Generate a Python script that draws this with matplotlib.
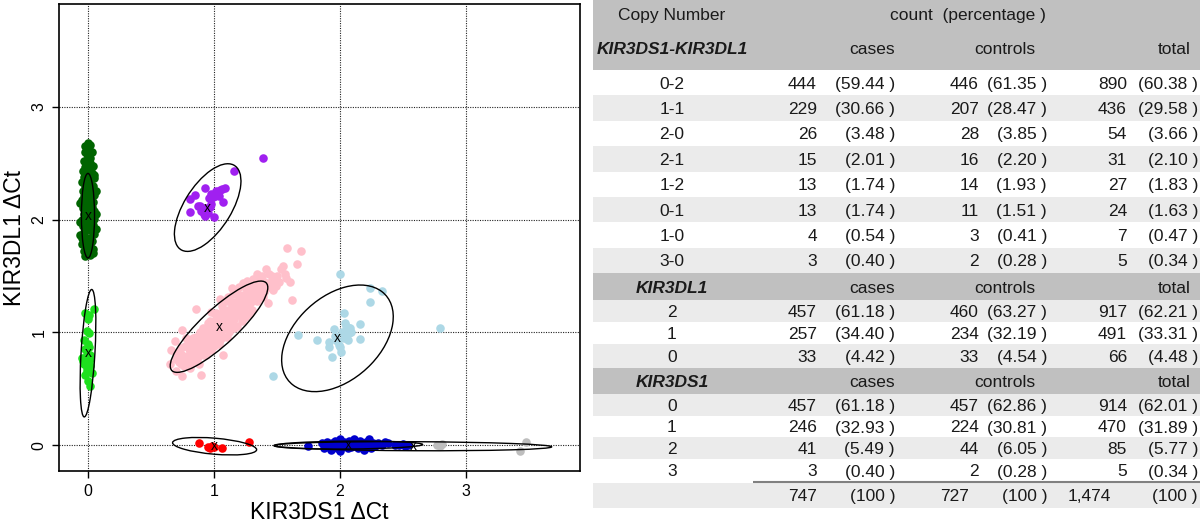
import matplotlib
matplotlib.use("Agg")
import matplotlib.pyplot as plt
from matplotlib.patches import Ellipse, Rectangle

plt.rcParams['font.family'] = ['Liberation Sans', 'DejaVu Sans']

# ---------------- scatter data (KIR3DS1 dCt, KIR3DL1 dCt) ----------------
dkgreen_x = [0.00, 0.02, -0.02, 0.01, 0.03, -0.01, 0.00, -0.03, 0.02, 0.04, -0.02, 0.01, -0.04, 0.03, 0.00,
             -0.03, 0.05, 0.02, -0.05, 0.00, 0.04, -0.02, 0.03, -0.04, 0.01, 0.05, -0.03, 0.02, -0.05, 0.04,
             0.00, -0.02, 0.03, -0.04, 0.05, 0.01, -0.03, 0.03, -0.01, 0.05, -0.05, 0.02, -0.02, 0.04, -0.04,
             0.00, 0.03, -0.03, 0.05, -0.06, 0.01, -0.02, 0.03, -0.04, 0.02, -0.01, 0.04, -0.03, 0.00, 0.02,
             -0.02, 0.01, -0.05, 0.06, -0.06, 0.06, 0.00, 0.00, 0.00, 0.00, 0.01, -0.01, 0.02, -0.02,
             0.06, -0.06, 0.05, -0.05, 0.04]
dkgreen_y = [2.68, 2.66, 2.65, 2.62, 2.60, 2.58, 2.55, 2.52, 2.50, 2.48, 2.47, 2.45, 2.43, 2.41, 2.40,
             2.38, 2.37, 2.35, 2.33, 2.32, 2.30, 2.29, 2.27, 2.25, 2.24, 2.22, 2.21, 2.19, 2.17, 2.16,
             2.14, 2.13, 2.11, 2.10, 2.08, 2.07, 2.05, 2.04, 2.02, 2.01, 2.00, 1.98, 1.97, 1.95, 1.94,
             1.92, 1.90, 1.89, 1.87, 1.86, 1.84, 1.82, 1.81, 1.79, 1.77, 1.75, 1.74, 1.72, 1.70, 1.69,
             1.68, 1.72, 1.84, 2.05, 2.15, 2.25, 2.20, 2.10, 1.95, 1.80, 2.34, 2.28, 2.55, 2.60,
             1.92, 1.98, 2.40, 1.78, 1.70]

green_x = [0.05, -0.02, 0.01, -0.01, 0.01, 0.00, -0.02, -0.05, 0.02, -0.03, 0.02, -0.01, 0.03, 0.00,
           0.02, -0.01, 0.01, -0.03, -0.01, 0.015, -0.02, 0.00, 0.01, -0.04]
green_y = [1.21, 1.17, 1.15, 1.01, 0.99, 0.90, 0.85, 0.77, 0.76, 0.72, 0.70, 0.66, 0.64, 0.57,
           0.52, 0.81, 0.87, 0.93, 0.68, 0.80, 0.62, 1.12, 0.73, 0.75]

purple_x = [1.39, 1.16, 0.93, 1.09, 1.05, 1.02, 0.98, 0.99, 1.01, 0.85, 0.81, 1.07, 0.89, 0.98,
            0.94, 0.81, 0.92, 0.93, 1.00, 0.87, 1.03, 0.96, 1.04, 0.90, 0.95, 1.06, 0.97]
purple_y = [2.55, 2.43, 2.28, 2.28, 2.26, 2.25, 2.23, 2.20, 2.21, 2.22, 2.18, 2.16, 2.12, 2.14,
            2.10, 2.07, 2.05, 2.03, 2.02, 2.12, 2.24, 2.19, 2.21, 2.08, 2.06, 2.27, 2.11]

pink_x = [0.72, 0.75, 0.78, 0.80, 0.82, 0.84, 0.85, 0.87, 0.88, 0.89, 0.90, 0.92, 0.93, 0.94, 0.95,
          0.96, 0.97, 0.98, 0.99, 1.00, 1.01, 1.02, 1.03, 1.04, 1.05, 1.06, 1.07, 1.08, 1.09, 1.10,
          1.11, 1.12, 1.13, 1.14, 1.15, 1.16, 1.17, 1.18, 1.19, 1.20, 1.21, 1.22, 1.23, 1.24, 1.26,
          1.27, 1.28, 1.30, 1.31, 1.33, 1.34, 1.36, 1.37, 1.39, 1.40, 1.42, 0.86, 0.91, 0.79, 0.83,
          0.76, 0.70, 0.74, 0.97, 1.02, 1.06, 1.10, 1.00, 1.05, 1.12, 1.18, 1.25, 1.30, 0.94, 0.88,
          0.81, 1.15, 1.20, 1.26, 0.95, 1.00, 1.08, 1.14, 0.90, 0.85,
          0.70, 0.74, 0.77, 0.80, 0.83, 0.86, 0.89, 0.92, 0.95, 0.98, 1.01, 1.04, 1.07, 1.10, 1.13,
          1.16, 1.19, 1.22, 1.25, 1.28, 1.31, 1.34, 1.37, 1.40, 1.43, 1.45, 0.76, 0.81, 0.87, 0.93,
          0.99, 1.04, 1.09, 1.15, 1.21, 1.27, 1.33, 1.29, 1.24, 1.18, 1.13, 1.07, 1.02, 0.97, 0.92,
          0.84, 0.79, 0.73, 1.36, 1.50, 1.53, 1.44, 1.34, 1.60, 1.47, 1.39, 1.11, 0.98,
          1.58, 1.69, 1.66, 1.55, 1.41, 1.56, 1.57, 1.47, 1.49, 1.31, 1.23, 1.62, 1.43, 1.14, 1.05,
          0.86, 0.75, 0.69, 0.65, 0.75, 0.90, 1.07, 0.73, 0.66, 1.46, 1.52, 1.38, 0.78, 0.70]
pink_y = [0.74, 0.80, 0.76, 0.85, 0.80, 0.90, 0.84, 0.78, 0.94, 0.88, 0.83, 0.98, 0.92, 0.86, 1.02,
          0.96, 0.90, 1.06, 1.00, 0.94, 1.10, 1.04, 0.98, 1.14, 1.08, 1.02, 0.96, 1.16, 1.11, 1.05,
          1.20, 1.14, 1.08, 1.24, 1.18, 1.12, 1.27, 1.21, 1.15, 1.30, 1.24, 1.18, 1.33, 1.27, 1.36,
          1.30, 1.24, 1.39, 1.33, 1.42, 1.36, 1.44, 1.39, 1.46, 1.41, 1.44, 0.96, 1.04, 0.90, 0.74,
          0.70, 0.76, 0.86, 1.10, 1.17, 1.23, 1.28, 0.88, 0.93, 1.00, 1.06, 1.14, 1.20, 0.80, 0.72,
          0.68, 1.34, 1.40, 1.46, 0.95, 1.05, 1.06, 1.15, 0.90, 0.80,
          0.82, 0.72, 0.88, 0.72, 0.95, 0.76, 1.00, 0.80, 1.08, 0.84, 1.16, 0.90, 1.20, 0.96, 1.28,
          1.04, 1.34, 1.10, 1.40, 1.16, 1.44, 1.28, 1.33, 1.36, 1.40, 1.45, 0.76, 0.82, 0.86, 0.95,
          0.97, 1.02, 1.09, 1.21, 1.28, 1.35, 1.30, 1.27, 1.21, 1.17, 1.12, 1.13, 1.08, 1.02, 0.88,
          0.84, 0.79, 0.78, 1.48, 1.50, 1.56, 1.52, 1.52, 1.45, 1.38, 1.31, 1.31, 1.18,
          1.75, 1.72, 1.61, 1.59, 1.56, 1.52, 1.48, 1.46, 1.41, 1.47, 1.44, 1.29, 1.26, 1.39, 1.30,
          1.21, 1.02, 0.92, 0.72, 0.61, 0.62, 0.80, 0.81, 0.84, 1.50, 1.45, 1.50, 0.95, 0.66]

ltblue_x = [2.00, 2.24, 2.33, 2.24, 2.03, 2.04, 2.16, 2.07, 1.95, 2.79, 1.67, 1.82, 1.91, 2.16, 1.99,
            2.04, 1.91, 2.00, 1.94, 2.07, 2.09, 1.47, 2.05, 2.06, 2.03, 2.02, 1.98, 2.06, 2.08, 2.01, 1.96]
ltblue_y = [1.52, 1.39, 1.37, 1.27, 1.17, 1.08, 1.07, 1.035, 1.03, 1.04, 0.98, 0.93, 0.91, 0.94, 0.89,
            0.97, 0.87, 0.87, 0.78, 0.99, 1.005, 0.61, 1.06, 1.02, 0.95, 1.00, 0.92, 0.93, 1.04, 0.83, 0.97]

red_x = [0.88, 0.95, 0.965, 0.985, 1.06, 1.28, 1.00]
red_y = [0.015, -0.02, -0.03, -0.01, -0.025, 0.03, -0.02]

blue_x = [1.75, 1.86, 1.87, 1.89, 1.90, 1.91, 1.92, 1.93, 1.94, 1.95, 1.96, 1.97, 1.98, 1.99, 2.00,
          2.00, 2.01, 2.02, 2.03, 2.04, 2.05, 2.06, 2.07, 2.08, 2.09, 2.10, 2.11, 2.12, 2.13, 2.14,
          2.15, 2.16, 2.17, 2.18, 2.19, 2.20, 2.21, 2.22, 2.23, 2.24, 2.25, 2.26, 2.28, 2.30, 2.33,
          2.36, 2.38, 2.44, 2.47, 2.50, 2.52, 2.54, 1.96, 2.02]
blue_y = [-0.01, 0.02, -0.03, 0.00, 0.03, -0.02, 0.01, -0.04, 0.02, -0.01, 0.04, 0.00, -0.03, 0.02, -0.05,
          0.05, 0.01, -0.02, 0.03, -0.01, 0.02, -0.03, 0.04, 0.00, -0.02, 0.02, 0.05, -0.01, 0.03, -0.03,
          0.01, 0.04, -0.02, 0.02, -0.04, 0.00, 0.03, -0.02, 0.05, 0.01, -0.03, 0.02, -0.01, 0.02, 0.00,
          0.03, 0.02, 0.00, 0.00, 0.01, -0.01, 0.00, 0.00, 0.00]

gray_x = [2.77, 2.81, 2.79, 3.43, 3.48]
gray_y = [0.00, 0.01, -0.005, -0.05, 0.03]

# cluster ellipses: centre x, centre y, semi-major, semi-minor, angle (deg)
ell_cx = [0.00, 0.00, 0.95, 1.04, 1.98, 1.005, 2.066, 2.58]
ell_cy = [2.035, 0.815, 2.107, 1.05, 0.947, -0.01, 0.00, -0.01]
ell_a = [0.375, 0.566, 0.43, 0.54, 0.544, 0.335, 0.59, 1.10]
ell_b = [0.052, 0.055, 0.19, 0.15, 0.352, 0.071, 0.035, 0.04]
ell_ang = [90, 87, 61.6, 46.5, 49.6, -5.5, 0.5, -0.3]

x_ticks = [0, 1, 2, 3]
y_ticks = [0, 1, 2, 3]

# ---------------- table data ----------------
combo_labels = ['0-2', '1-1', '2-0', '2-1', '1-2', '0-1', '1-0', '3-0']
combo_cases = [444, 229, 26, 15, 13, 13, 4, 3]
combo_cases_pct = [59.44, 30.66, 3.48, 2.01, 1.74, 1.74, 0.54, 0.40]
combo_controls = [446, 207, 28, 16, 14, 11, 3, 2]
combo_controls_pct = [61.35, 28.47, 3.85, 2.20, 1.93, 1.51, 0.41, 0.28]
combo_total = [890, 436, 54, 31, 27, 24, 7, 5]
combo_total_pct = [60.38, 29.58, 3.66, 2.10, 1.83, 1.63, 0.47, 0.34]

dl1_labels = ['2', '1', '0']
dl1_cases = [457, 257, 33]
dl1_cases_pct = [61.18, 34.40, 4.42]
dl1_controls = [460, 234, 33]
dl1_controls_pct = [63.27, 32.19, 4.54]
dl1_total = [917, 491, 66]
dl1_total_pct = [62.21, 33.31, 4.48]

ds1_labels = ['0', '1', '2', '3']
ds1_cases = [457, 246, 41, 3]
ds1_cases_pct = [61.18, 32.93, 5.49, 0.40]
ds1_controls = [457, 224, 44, 2]
ds1_controls_pct = [62.86, 30.81, 6.05, 0.28]
ds1_total = [914, 470, 85, 5]
ds1_total_pct = [62.01, 31.89, 5.77, 0.34]

grand_totals = [747, 727, 1474]

# ---------------- figure ----------------
fig = plt.figure(figsize=(12, 5.26), dpi=100)
W, H = 1200, 526
ax = fig.add_axes([59 / W, 55 / H, 521 / W, 467 / H])
ax.set_xlim(-0.23, 3.905)
ax.set_ylim(-0.23, 3.913)

for t in x_ticks:
    ax.axvline(t, color='#222222', lw=0.8, ls=(0, (1, 1.2)), zorder=1)
for t in y_ticks:
    ax.axhline(t, color='#222222', lw=0.8, ls=(0, (1, 1.2)), zorder=1)

S = 38
groups = [
    (pink_x, pink_y, '#FFC0CB'),
    (ltblue_x, ltblue_y, '#ADD8E6'),
    (dkgreen_x, dkgreen_y, '#006400'),
    (green_x, green_y, '#1EE01E'),
    (purple_x, purple_y, '#A020F0'),
    (red_x, red_y, '#FF0000'),
    (gray_x, gray_y, '#BEBEBE'),
    (blue_x, blue_y, '#0000CD'),
]
for gx, gy, c in groups:
    ax.scatter(gx, gy, s=S, c=c, linewidths=0, zorder=2)

for cx, cy, a, b, ang in zip(ell_cx, ell_cy, ell_a, ell_b, ell_ang):
    ax.add_patch(Ellipse((cx, cy), 2 * a, 2 * b, angle=ang, fill=False, ec='black', lw=1.0, zorder=3))
    ax.text(cx, cy, 'x', ha='center', va='center', fontsize=10, color='black', zorder=4)

ax.set_xticks(x_ticks)
ax.set_yticks(y_ticks)
ax.tick_params(direction='out', length=5, width=1, labelsize=11.5, pad=4)
ax.tick_params(axis='y', labelrotation=90)
for lab in ax.get_yticklabels():
    lab.set_va('center')
for sp in ax.spines.values():
    sp.set_linewidth(1.2)
ax.set_xlabel('KIR3DS1 \u0394Ct', fontsize=16.5, labelpad=2)
ax.set_ylabel('KIR3DL1 \u0394Ct', fontsize=16.5, labelpad=4)

# ---------------- table ----------------
tab = fig.add_axes([0, 0, 1, 1])
tab.set_xlim(0, W)
tab.set_ylim(H, 0)
tab.axis('off')

DARK = '#C0C0C0'
LIGHT = '#EBEBEB'
X0 = 593
FS = 12.5
TC = '#1a1a1a'

def band(y0, y1, color):
    tab.add_patch(Rectangle((X0, y0), W - X0, y1 - y0, color=color, lw=0, zorder=0))

def txt(x, y, s, ha='center', bold=False):
    tab.text(x, y, s, ha=ha, va='center_baseline', fontsize=FS, color=TC,
             fontweight='bold' if bold else 'normal', fontstyle='italic' if bold else 'normal')

col_label_x = 672
n_right = [817, 979, 1127]
p_right = [895, 1047, 1198]

def data_row(y, label, vals, pcts):
    txt(col_label_x, y, label)
    for i in range(3):
        txt(n_right[i], y, f'{vals[i]:,}', ha='right')
        txt(p_right[i], y, f'({pcts[i]:.2f} )', ha='right')

def sub_header(y, name):
    txt(col_label_x, y, name, bold=True)
    txt(895, y, 'cases', ha='right')
    txt(1005, y, 'controls')
    txt(1191, y, 'total', ha='right')

# header
band(0, 70, DARK)
txt(col_label_x, 14, 'Copy Number')
txt(968, 14, 'count  (percentage )')
sub_header(48, 'KIR3DS1-KIR3DL1')

# combo rows
edges = [70, 95.4, 120.8, 146.1, 171.5, 196.9, 222.3, 247.6, 273]
for i, lab in enumerate(combo_labels):
    y0, y1 = edges[i], edges[i + 1]
    if i % 2 == 1:
        band(y0, y1, LIGHT)
    data_row((y0 + y1) / 2, lab,
             [combo_cases[i], combo_controls[i], combo_total[i]],
             [combo_cases_pct[i], combo_controls_pct[i], combo_total_pct[i]])

# KIR3DL1
band(273, 300, DARK)
sub_header(287, 'KIR3DL1')
dl1_edges = [300, 322, 344, 368]
for i, lab in enumerate(dl1_labels):
    y0, y1 = dl1_edges[i], dl1_edges[i + 1]
    if i % 2 == 0:
        band(y0, y1, LIGHT)
    data_row((y0 + y1) / 2, lab,
             [dl1_cases[i], dl1_controls[i], dl1_total[i]],
             [dl1_cases_pct[i], dl1_controls_pct[i], dl1_total_pct[i]])

# KIR3DS1
band(368, 394, DARK)
sub_header(381, 'KIR3DS1')
ds1_edges = [394, 416, 437, 459, 482]
for i, lab in enumerate(ds1_labels):
    y0, y1 = ds1_edges[i], ds1_edges[i + 1]
    if i % 2 == 0:
        band(y0, y1, LIGHT)
    data_row((y0 + y1) / 2, lab,
             [ds1_cases[i], ds1_controls[i], ds1_total[i]],
             [ds1_cases_pct[i], ds1_controls_pct[i], ds1_total_pct[i]])

# totals
band(483, 508, LIGHT)
tab.plot([753, W], [482, 482], color='#808080', lw=1.5, solid_capstyle='butt')
tot_right = [817, 969, 1111]
for i in range(3):
    txt(tot_right[i], 495, f'{grand_totals[i]:,}', ha='right')
    txt(p_right[i], 495, '(100 )', ha='right')

fig.savefig('out.png', dpi=100)
